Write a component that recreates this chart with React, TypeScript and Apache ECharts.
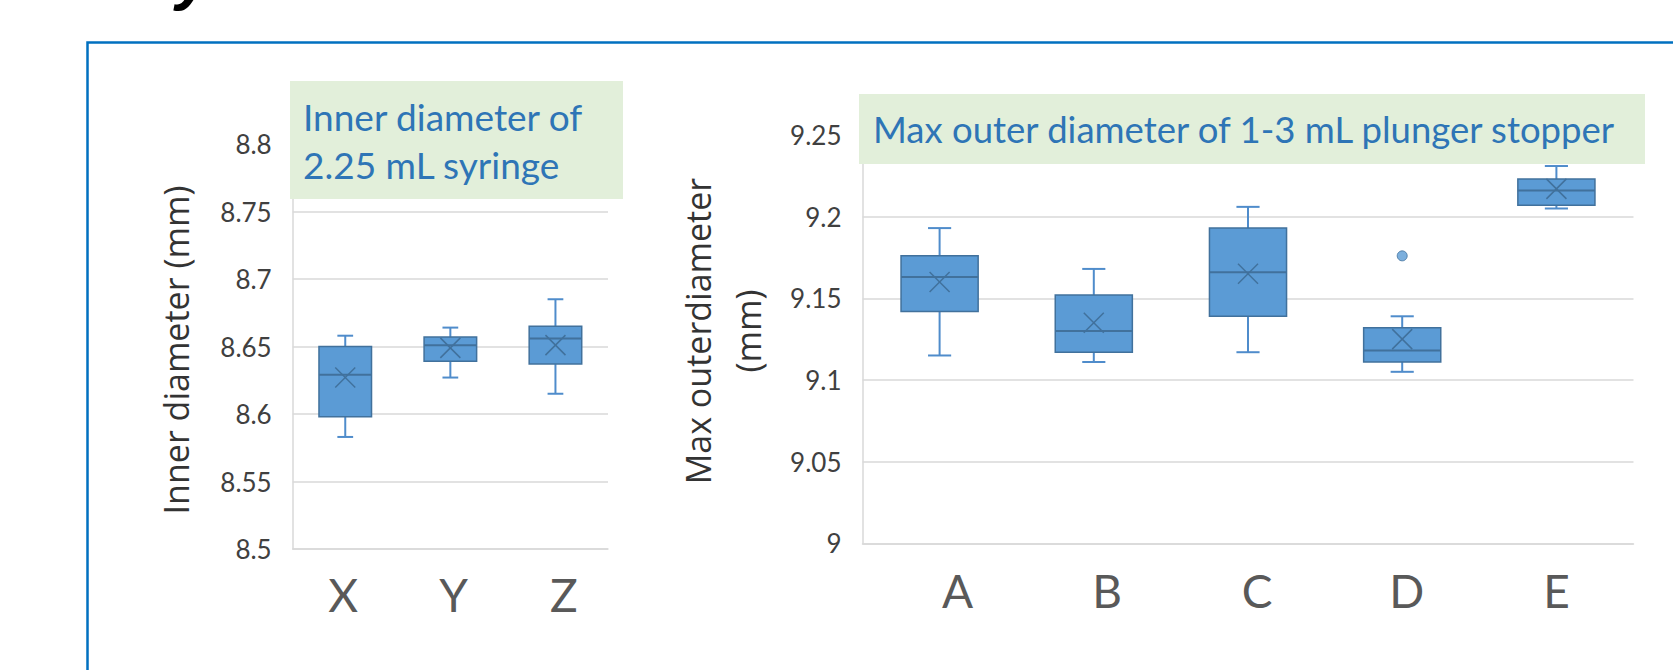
import React, { useEffect, useRef } from 'react';
import * as echarts from 'echarts';

// ---------- data ----------
const leftCategories = ['X', 'Y', 'Z'];
const leftMin = [8.583, 8.627, 8.615];
const leftQ1 = [8.598, 8.639, 8.637];
const leftMedian = [8.629, 8.651, 8.656];
const leftQ3 = [8.65, 8.657, 8.665];
const leftMax = [8.658, 8.664, 8.685];
const leftMean = [8.627, 8.649, 8.651];
const leftTicks = [8.5, 8.55, 8.6, 8.65, 8.7, 8.75, 8.8];

const rightCategories = ['A', 'B', 'C', 'D', 'E'];
const rightMin = [9.115, 9.111, 9.117, 9.105, 9.205];
const rightQ1 = [9.142, 9.117, 9.139, 9.111, 9.207];
const rightMedian = [9.163, 9.13, 9.166, 9.118, 9.216];
const rightQ3 = [9.176, 9.152, 9.193, 9.132, 9.223];
const rightMax = [9.193, 9.168, 9.206, 9.139, 9.231];
const rightMean = [9.16, 9.135, 9.165, 9.125, 9.217];
const rightOutlierCategory = ['D'];
const rightOutlierValue = [9.176];
const rightTicks = [9, 9.05, 9.1, 9.15, 9.2, 9.25];

const leftTitle = 'Inner diameter of\n2.25 mL syringe';
const rightTitle = 'Max outer diameter of 1-3 mL plunger stopper';
const leftAxisTitle = 'Inner diameter (mm)';
const rightAxisTitle = 'Max outerdiameter\n(mm)';

// ---------- styles ----------
const BOX_FILL = '#5b9bd5';
const BOX_EDGE = '#41719c';
const WHISKER = '#4f8ccb';
const GRID = '#d9d9d9';
const TICK_COLOR = '#404040';
const CAT_COLOR = '#595959';
const TITLE_COLOR = '#2e75b6';
const TITLE_BG = '#e2efda';

function renderBox(params: any, api: any) {
  const i = api.value(0);
  const pMin = api.coord([i, api.value(1)]);
  const pQ1 = api.coord([i, api.value(2)]);
  const pMed = api.coord([i, api.value(3)]);
  const pQ3 = api.coord([i, api.value(4)]);
  const pMax = api.coord([i, api.value(5)]);
  const pMean = api.coord([i, api.value(6)]);
  const cx = pMin[0];
  const bw = api.size([1, 0])[0] * 0.5;
  const cap = bw * 0.15;
  const m = 10;
  const ws = { stroke: WHISKER, lineWidth: 2 };
  return {
    type: 'group',
    children: [
      { type: 'line', shape: { x1: cx, y1: pQ3[1], x2: cx, y2: pMax[1] }, style: ws },
      { type: 'line', shape: { x1: cx - cap, y1: pMax[1], x2: cx + cap, y2: pMax[1] }, style: ws },
      { type: 'line', shape: { x1: cx, y1: pQ1[1], x2: cx, y2: pMin[1] }, style: ws },
      { type: 'line', shape: { x1: cx - cap, y1: pMin[1], x2: cx + cap, y2: pMin[1] }, style: ws },
      {
        type: 'rect',
        shape: { x: cx - bw / 2, y: pQ3[1], width: bw, height: pQ1[1] - pQ3[1] },
        style: { fill: BOX_FILL, stroke: BOX_EDGE, lineWidth: 1.5 },
      },
      { type: 'line', shape: { x1: cx - bw / 2, y1: pMed[1], x2: cx + bw / 2, y2: pMed[1] }, style: { stroke: BOX_EDGE, lineWidth: 2 } },
      { type: 'line', shape: { x1: cx - m, y1: pMean[1] - m, x2: cx + m, y2: pMean[1] + m }, style: { stroke: BOX_EDGE, lineWidth: 1.5 } },
      { type: 'line', shape: { x1: cx - m, y1: pMean[1] + m, x2: cx + m, y2: pMean[1] - m }, style: { stroke: BOX_EDGE, lineWidth: 1.5 } },
    ],
  };
}

const fmt = (v: number) => String(Number(v.toFixed(2)));

function yAxisFor(ticks: number[], gridIndex: number) {
  return {
    type: 'value',
    gridIndex,
    min: ticks[0],
    max: ticks[ticks.length - 1],
    interval: Number((ticks[1] - ticks[0]).toFixed(4)),
    axisLine: { show: true, lineStyle: { color: GRID, width: 1.5 } },
    axisTick: { show: false },
    splitLine: { show: true, lineStyle: { color: GRID, width: 1.5 } },
    axisLabel: { formatter: fmt, color: TICK_COLOR, fontFamily: 'Lato', fontSize: 26, margin: 21 },
  };
}

// plot axis (no labels)
function xAxisFor(cats: string[], gridIndex: number) {
  return {
    type: 'category',
    gridIndex,
    data: cats,
    boundaryGap: true,
    axisLine: { show: true, lineStyle: { color: GRID, width: 1.5 } },
    axisTick: { show: false },
    axisLabel: { show: false },
  };
}

// label-only axis
function labelAxisFor(cats: string[], gridIndex: number, margin: number) {
  return {
    type: 'category',
    gridIndex,
    data: cats,
    boundaryGap: true,
    axisLine: { show: false },
    axisTick: { show: false },
    splitLine: { show: false },
    axisLabel: { color: CAT_COLOR, fontFamily: 'Lato', fontWeight: 400, fontSize: 46, margin },
  };
}

const hiddenY = (gridIndex: number) => ({
  type: 'value',
  gridIndex,
  show: false,
  splitLine: { show: false },
});

export default function App() {
  const ref = useRef<HTMLDivElement>(null);
  useEffect(() => {
    const chart = echarts.init(ref.current!, null, { renderer: 'svg' });
    const option: any = {
      animation: false,
      backgroundColor: '#ffffff',
      grid: [
        { left: 292.7, top: 144, width: 315.3, height: 405 },
        { left: 862.5, top: 135, width: 771, height: 408.3 },
        { left: 288.1, top: 144, width: 331, height: 405 },
        { left: 882.6, top: 135, width: 748.8, height: 408.3 },
      ],
      xAxis: [
        xAxisFor(leftCategories, 0),
        xAxisFor(rightCategories, 1),
        labelAxisFor(leftCategories, 2, 22),
        labelAxisFor(rightCategories, 3, 24),
      ],
      yAxis: [yAxisFor(leftTicks, 0), yAxisFor(rightTicks, 1), hiddenY(2), hiddenY(3)],
      series: [
        {
          type: 'custom',
          xAxisIndex: 0,
          yAxisIndex: 0,
          renderItem: renderBox,
          encode: { x: 0, y: [1, 2, 3, 4, 5, 6] },
          data: leftCategories.map((_, i) => [i, leftMin[i], leftQ1[i], leftMedian[i], leftQ3[i], leftMax[i], leftMean[i]]),
        },
        {
          type: 'custom',
          xAxisIndex: 1,
          yAxisIndex: 1,
          renderItem: renderBox,
          encode: { x: 0, y: [1, 2, 3, 4, 5, 6] },
          data: rightCategories.map((_, i) => [i, rightMin[i], rightQ1[i], rightMedian[i], rightQ3[i], rightMax[i], rightMean[i]]),
        },
        {
          type: 'scatter',
          xAxisIndex: 1,
          yAxisIndex: 1,
          symbol: 'circle',
          symbolSize: 10,
          itemStyle: { color: BOX_FILL, borderColor: BOX_EDGE, borderWidth: 1 },
          data: rightOutlierCategory.map((c, i) => [c, rightOutlierValue[i]]),
        },
      ],
      graphic: [
        {
          type: 'rect',
          z: 100,
          shape: { x: 87.5, y: 42.5, width: 1700, height: 700 },
          style: { fill: 'none', stroke: '#0070c0', lineWidth: 2.5 },
        },
        {
          type: 'text',
          z: 100,
          x: 176,
          y: 8,
          style: { text: 'y', font: 'italic bold 64px "Liberation Sans"', fill: '#000', textAlign: 'left', textVerticalAlign: 'bottom' },
        },
        {
          type: 'rect',
          z: 100,
          shape: { x: 290, y: 81, width: 333, height: 118 },
          style: { fill: TITLE_BG },
        },
        {
          type: 'text',
          z: 101,
          x: 303,
          y: 140,
          style: { text: leftTitle, font: '37px Lato', fill: TITLE_COLOR, lineHeight: 48, textAlign: 'left', textVerticalAlign: 'middle' },
        },
        {
          type: 'rect',
          z: 100,
          shape: { x: 859, y: 94, width: 786, height: 70 },
          style: { fill: TITLE_BG },
        },
        {
          type: 'text',
          z: 101,
          x: 873,
          y: 129,
          style: { text: rightTitle, font: '36.5px Lato', fill: TITLE_COLOR, textAlign: 'left', textVerticalAlign: 'middle' },
        },
        {
          type: 'text',
          z: 101,
          x: 176,
          y: 350,
          rotation: Math.PI / 2,
          style: { text: leftAxisTitle, font: '34px "Open Sans"', fill: '#333333', textAlign: 'center', textVerticalAlign: 'middle' },
        },
        {
          type: 'text',
          z: 101,
          x: 723,
          y: 331,
          rotation: Math.PI / 2,
          style: { text: rightAxisTitle, font: '34px "Open Sans"', fill: '#333333', lineHeight: 50, textAlign: 'center', textVerticalAlign: 'middle' },
        },
      ],
    };
    chart.setOption(option);
    return () => chart.dispose();
  }, []);
  return (
    <div
      ref={ref}
      style={{ position: 'fixed', left: 0, top: 0, width: 1673, height: 670, background: '#fff' }}
    />
  );
}
